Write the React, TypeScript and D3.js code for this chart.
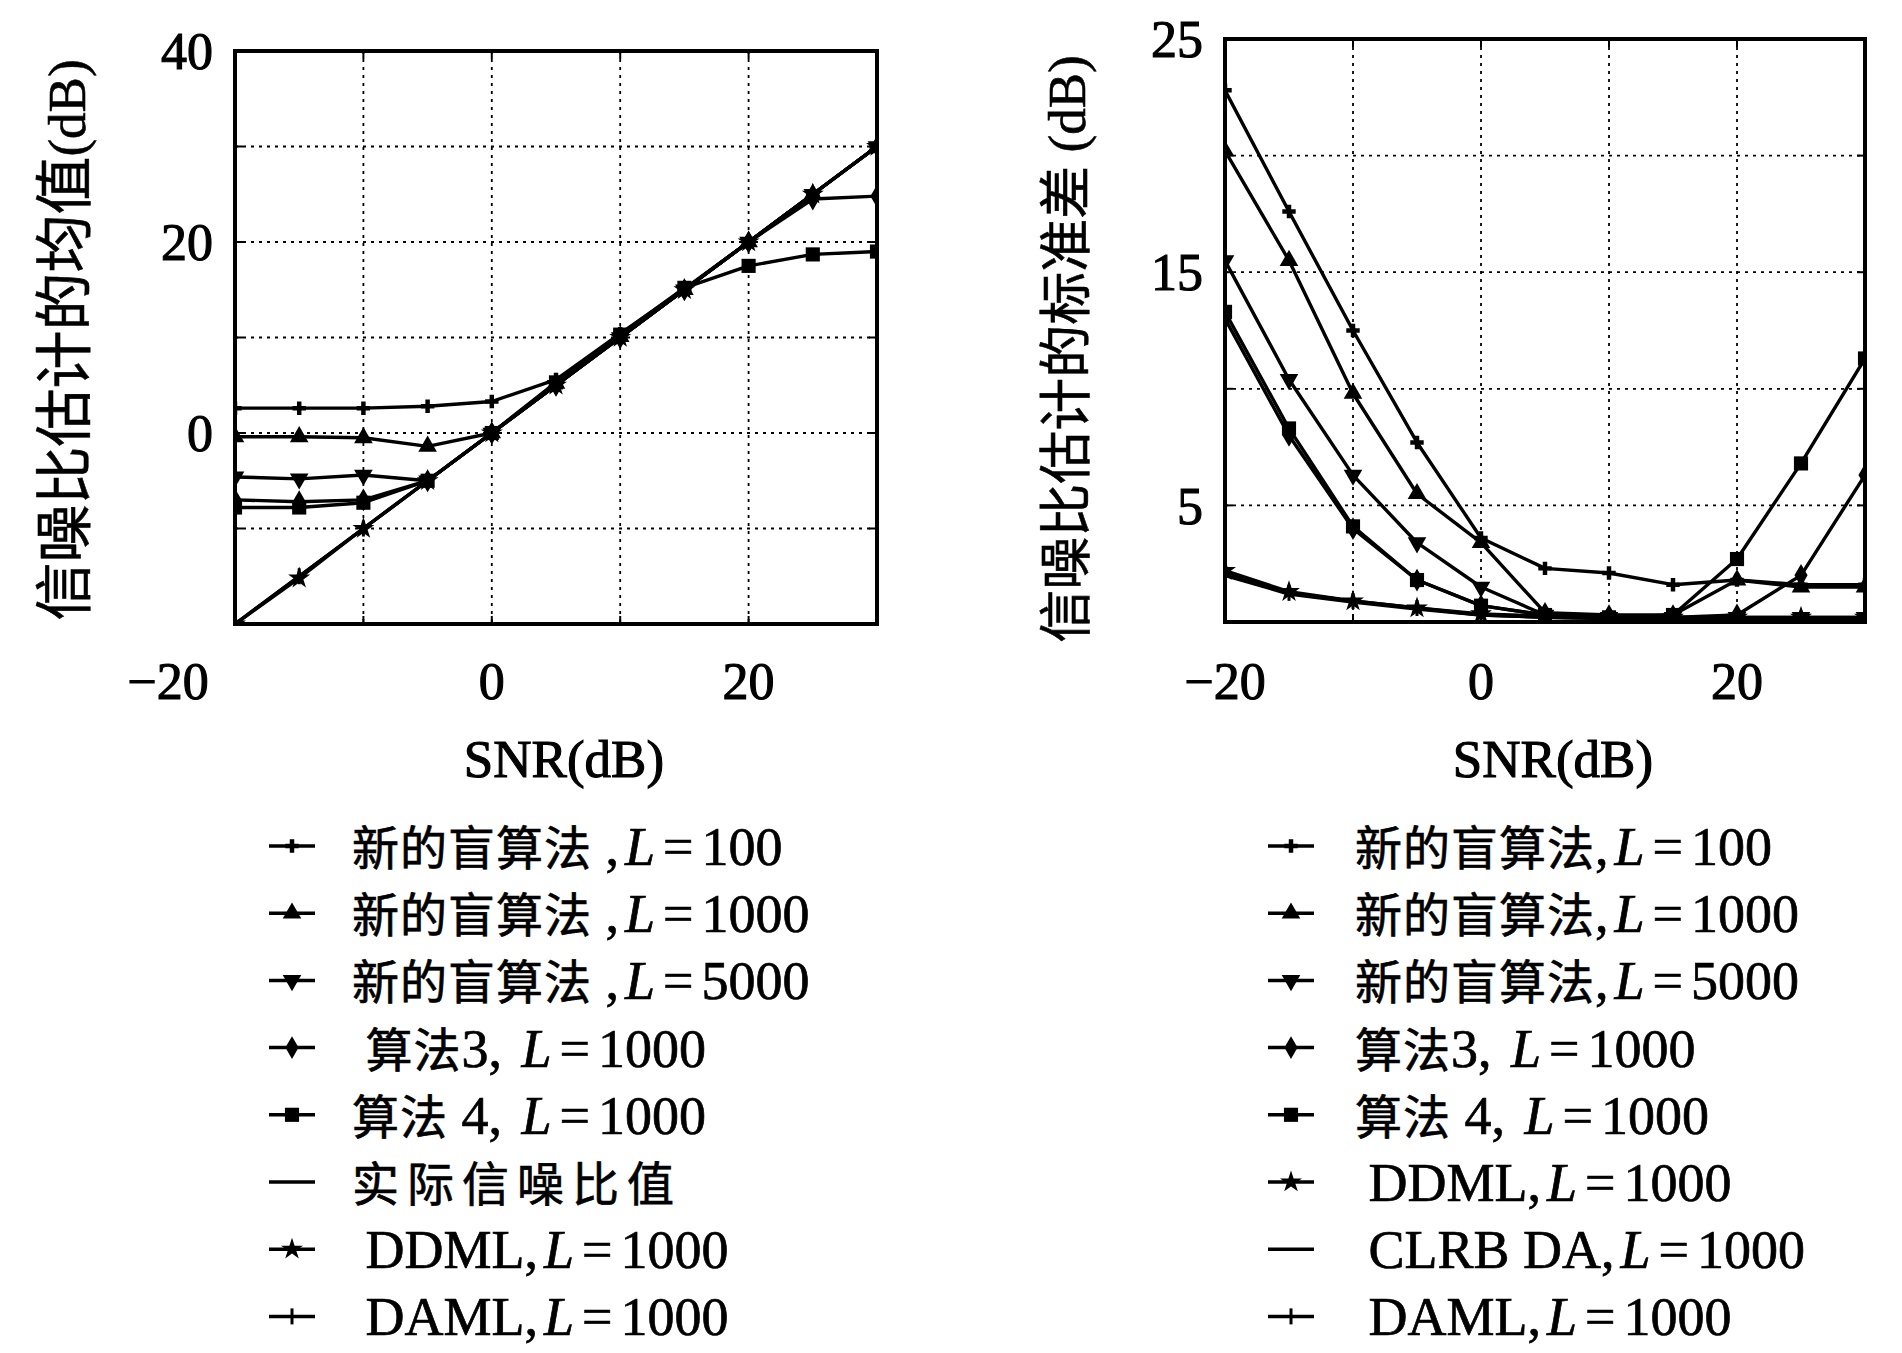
import React, { useEffect, useRef } from "react";
import * as d3 from "d3";

// SNR points (dB), shared by both panels
const snrPoints = [-20, -15, -10, -5, 0, 5, 10, 15, 20, 25, 30];

// tick labels / grid
const xTickLabels = [-20, 0, 20];
const xGrid = [-10, 0, 10, 20];
const meanYTicks = [40, 20, 0];
const meanYGrid = [30, 20, 10, 0, -10];
const stdYTicks = [25, 15, 5];
const stdYGrid = [20, 15, 10, 5];

// left panel: mean of the SNR estimate (dB)
const meanNewL100 = [2.6, 2.6, 2.6, 2.8, 3.3, 5.6, 10.4, 15.1, 20, 25, 30];
const meanNewL1000 = [-0.4, -0.4, -0.5, -1.4, 0, 5.2, 10.1, 15, 20, 25, 30];
const meanNewL5000 = [-4.6, -4.8, -4.4, -5, 0, 5, 10, 15, 20, 25, 30];
const meanAlg3 = [-7, -7.2, -7, -5, 0, 5, 10, 15, 20, 24.5, 24.8];
const meanAlg4 = [-7.8, -7.8, -7.3, -5, 0, 5.3, 10.3, 15.2, 17.5, 18.7, 19];
const meanTrue = [-20, -15, -10, -5, 0, 5, 10, 15, 20, 25, 30];
const meanDDML = [-20, -15.2, -10, -5, 0, 5, 10, 15, 20, 25, 30];
const meanDAML = [-20, -15, -10, -5, 0, 5, 10, 15, 20, 25, 30];

// right panel: standard deviation of the SNR estimate (dB)
const stdNewL100 = [22.8, 17.6, 12.5, 7.7, 3.6, 2.3, 2.1, 1.6, 1.8, 1.6, 1.6];
const stdNewL1000 = [20.2, 15.5, 9.8, 5.5, 3.4, 0.4, 0.3, 0.3, 1.8, 1.5, 1.5];
const stdNewL5000 = [15.5, 10.4, 6.3, 3.4, 1.5, 0.3, 0.2, 0.2, 0.2, 0.2, 0.2];
const stdAlg3 = [13.0, 8.0, 4.0, 1.8, 0.7, 0.3, 0.2, 0.2, 0.3, 2.0, 6.3];
const stdAlg4 = [13.3, 8.3, 4.1, 1.8, 0.7, 0.3, 0.2, 0.3, 2.7, 6.8, 11.3];
const stdDDML = [2.2, 1.3, 0.9, 0.6, 0.35, 0.25, 0.2, 0.2, 0.2, 0.2, 0.2];
const stdCLRB = [2.0, 1.2, 0.85, 0.55, 0.3, 0.2, 0.15, 0.15, 0.15, 0.15, 0.15];
const stdDAML = [2.1, 1.25, 0.9, 0.6, 0.3, 0.2, 0.15, 0.15, 0.15, 0.15, 0.15];

const meanLegend = [
  "新的盲算法 ,{L}=100",
  "新的盲算法 ,{L}=1000",
  "新的盲算法 ,{L}=5000",
  " 算法3, {L}=1000",
  "算法 4, {L}=1000",
  "实际信噪比值",
  " DDML,{L}=1000",
  " DAML,{L}=1000",
];
const meanMarkers = ["plus", "triUp", "triDown", "diamond", "square", "none", "star", "tick"];

const stdLegend = [
  "新的盲算法,{L}=100",
  "新的盲算法,{L}=1000",
  "新的盲算法,{L}=5000",
  "算法3, {L}=1000",
  "算法 4, {L}=1000",
  " DDML,{L}=1000",
  " CLRB DA,{L}=1000",
  " DAML,{L}=1000",
];
const stdMarkers = ["plus", "triUp", "triDown", "diamond", "square", "star", "none", "tick"];

const serif = "'Liberation Serif', 'Times New Roman', serif";
const cjk = "'Noto Sans CJK SC', sans-serif";

type Sel = d3.Selection<any, unknown, null, undefined>;

function mixedText(text: Sel, label: string, cjkSize: number, latinSize: number) {
  const parts = label.split(/(\{L\}|=|[\u3400-\u9fff]+)/).filter((p) => p !== "");
  const onlyCjk = parts.length === 1;
  parts.forEach((p) => {
    const t = text.append("tspan");
    if (p === "{L}") t.attr("font-style", "italic").attr("font-size", latinSize).attr("dx", 6).attr("letter-spacing", 8).text("L");
    else if (p === "=") t.attr("font-size", latinSize).attr("letter-spacing", 8).text("=");
    else if (/[\u3400-\u9fff]/.test(p))
      t.attr("font-family", cjk).attr("font-size", cjkSize).attr("letter-spacing", onlyCjk ? 8 : 1).text(p);
    else t.attr("font-size", latinSize).text(p);
  });
}

function drawMarker(g: Sel, type: string, x: number, y: number) {
  if (type === "none") return;
  if (type === "tick") {
    g.append("line").attr("x1", x).attr("x2", x).attr("y1", y - 8).attr("y2", y + 8)
      .attr("stroke", "#000").attr("stroke-width", 3);
    return;
  }
  const sym: Record<string, [d3.SymbolType, number, number]> = {
    plus: [d3.symbolCross, 100, 0],
    triUp: [d3.symbolTriangle, 150, 0],
    triDown: [d3.symbolTriangle, 150, 180],
    diamond: [d3.symbolDiamond, 150, 0],
    square: [d3.symbolSquare, 200, 0],
    star: [d3.symbolStar, 150, 0],
  };
  const [s, size, rot] = sym[type];
  g.append("path")
    .attr("d", d3.symbol().type(s).size(size)())
    .attr("transform", `translate(${x},${y}) rotate(${rot})`)
    .attr("fill", "#000");
}

type Panel = {
  id: string;
  left: number; right: number; top: number; bottom: number;
  yDomain: [number, number];
  yGrid: number[]; yTicks: number[];
  series: { values: number[]; marker: string }[];
  yLabelCjk: string; yLabelRest: string; yLabelSize: number; yLabelX: number; yLabelY: number;
  legend: string[]; legendMarkers: string[]; legendLineX: number; legendTextX: number;
  firstXLabelShift: number;
};

function drawPanel(svg: Sel, p: Panel) {
  const x = d3.scaleLinear().domain([-20, 30]).range([p.left, p.right]);
  const y = d3.scaleLinear().domain(p.yDomain).range([p.bottom, p.top]);
  const g = svg.append("g");

  g.append("clipPath").attr("id", p.id + "clip").append("rect")
    .attr("x", p.left).attr("y", p.top).attr("width", p.right - p.left).attr("height", p.bottom - p.top);

  // dotted grid
  g.selectAll(".gx").data(xGrid).join("line")
    .attr("x1", (d) => x(d)).attr("x2", (d) => x(d)).attr("y1", p.top).attr("y2", p.bottom)
    .attr("stroke", "#000").attr("stroke-width", 1.8).attr("stroke-dasharray", "3 5");
  g.selectAll(".gy").data(p.yGrid).join("line")
    .attr("y1", (d) => y(d)).attr("y2", (d) => y(d)).attr("x1", p.left).attr("x2", p.right)
    .attr("stroke", "#000").attr("stroke-width", 1.8).attr("stroke-dasharray", "3 5");

  // inward ticks
  xGrid.forEach((d) => {
    g.append("line").attr("x1", x(d)).attr("x2", x(d)).attr("y1", p.bottom).attr("y2", p.bottom - 8).attr("stroke", "#000").attr("stroke-width", 2);
    g.append("line").attr("x1", x(d)).attr("x2", x(d)).attr("y1", p.top).attr("y2", p.top + 8).attr("stroke", "#000").attr("stroke-width", 2);
  });
  p.yGrid.forEach((d) => {
    g.append("line").attr("y1", y(d)).attr("y2", y(d)).attr("x1", p.left).attr("x2", p.left + 8).attr("stroke", "#000").attr("stroke-width", 2);
    g.append("line").attr("y1", y(d)).attr("y2", y(d)).attr("x1", p.right).attr("x2", p.right - 8).attr("stroke", "#000").attr("stroke-width", 2);
  });

  // curves
  const plot = g.append("g").attr("clip-path", `url(#${p.id}clip)`);
  const line = d3.line<number>().x((_, i) => x(snrPoints[i])).y((d) => y(d));
  p.series.forEach((s) => {
    plot.append("path").attr("d", line(s.values)).attr("fill", "none")
      .attr("stroke", "#000").attr("stroke-width", 3.4).attr("stroke-linejoin", "round");
    s.values.forEach((v, i) => drawMarker(plot, s.marker, x(snrPoints[i]), y(v)));
  });

  // frame
  g.append("rect").attr("x", p.left).attr("y", p.top).attr("width", p.right - p.left).attr("height", p.bottom - p.top)
    .attr("fill", "none").attr("stroke", "#000").attr("stroke-width", 4);

  const txt = (sel: Sel) => sel.attr("font-family", serif).attr("fill", "#000").attr("stroke", "#000").attr("stroke-width", 1.1);

  // x tick labels
  xTickLabels.forEach((d, i) => {
    txt(g.append("text"))
      .attr("x", x(d) + (i === 0 ? p.firstXLabelShift : 0)).attr("y", 681).attr("dy", "0.35em")
      .attr("text-anchor", "middle").attr("font-size", 52)
      .text(d < 0 ? "\u2212" + Math.abs(d) : String(d));
  });
  // y tick labels
  p.yTicks.forEach((d) => {
    txt(g.append("text"))
      .attr("x", p.left - 22).attr("y", y(d)).attr("dy", "0.35em")
      .attr("text-anchor", "end").attr("font-size", 52).text(String(d));
  });

  // axis titles
  txt(g.append("text")).attr("x", (p.left + p.right) / 2 + 8).attr("y", 758).attr("dy", "0.35em")
    .attr("text-anchor", "middle").attr("font-size", 53).text("SNR(dB)");

  const yl = txt(g.append("text"))
    .attr("transform", `translate(${p.yLabelX},${p.yLabelY}) rotate(-90)`)
    .attr("font-size", 53).attr("stroke-width", 0.6)
    .attr("text-anchor", "middle").attr("dy", "0.36em").style("white-space", "pre");
  yl.append("tspan").attr("font-family", cjk).attr("font-size", p.yLabelSize).text(p.yLabelCjk);
  yl.append("tspan").attr("font-size", 53).text(p.yLabelRest);

  // legend
  p.legend.forEach((label, i) => {
    const ry = 846 + i * 67.2;
    g.append("line").attr("x1", p.legendLineX).attr("x2", p.legendLineX + 46).attr("y1", ry).attr("y2", ry)
      .attr("stroke", "#000").attr("stroke-width", 3.5);
    drawMarker(g, p.legendMarkers[i], p.legendLineX + 23, ry);
    const t = txt(g.append("text")).attr("x", p.legendTextX).attr("y", ry).attr("font-size", 53)
      .attr("dy", "0.36em").attr("stroke-width", 0.7).style("white-space", "pre");
    mixedText(t, label, 47, 54);
  });
}

export default function App() {
  const ref = useRef<SVGSVGElement>(null);

  useEffect(() => {
    const svg = d3.select(ref.current) as Sel;
    svg.selectAll("*").remove();

    const meanValues = [meanNewL100, meanNewL1000, meanNewL5000, meanAlg3, meanAlg4, meanTrue, meanDDML, meanDAML];
    const stdValues = [stdNewL100, stdNewL1000, stdNewL5000, stdAlg3, stdAlg4, stdDDML, stdCLRB, stdDAML];

    drawPanel(svg, {
      id: "mean",
      left: 235, right: 877, top: 51, bottom: 624,
      yDomain: [-20, 40], yGrid: meanYGrid, yTicks: meanYTicks,
      series: meanValues.map((v, i) => ({ values: v, marker: meanMarkers[i] })),
      yLabelCjk: "信噪比估计的均值", yLabelRest: "(dB)", yLabelSize: 58, yLabelX: 66, yLabelY: 340,
      legend: meanLegend, legendMarkers: meanMarkers, legendLineX: 269, legendTextX: 352,
      firstXLabelShift: -67,
    });

    drawPanel(svg, {
      id: "std",
      left: 1225, right: 1865, top: 39, bottom: 622,
      yDomain: [0, 25], yGrid: stdYGrid, yTicks: stdYTicks,
      series: stdValues.map((v, i) => ({ values: v, marker: stdMarkers[i] })),
      yLabelCjk: "信噪比估计的标准差", yLabelRest: " (dB)", yLabelSize: 53, yLabelX: 1066, yLabelY: 349,
      legend: stdLegend, legendMarkers: stdMarkers, legendLineX: 1268, legendTextX: 1355,
      firstXLabelShift: 0,
    });
  }, []);

  return (
    <svg ref={ref} width={1902} height={1353}
      style={{ position: "absolute", left: 0, top: 0, background: "#fff" }} />
  );
}
